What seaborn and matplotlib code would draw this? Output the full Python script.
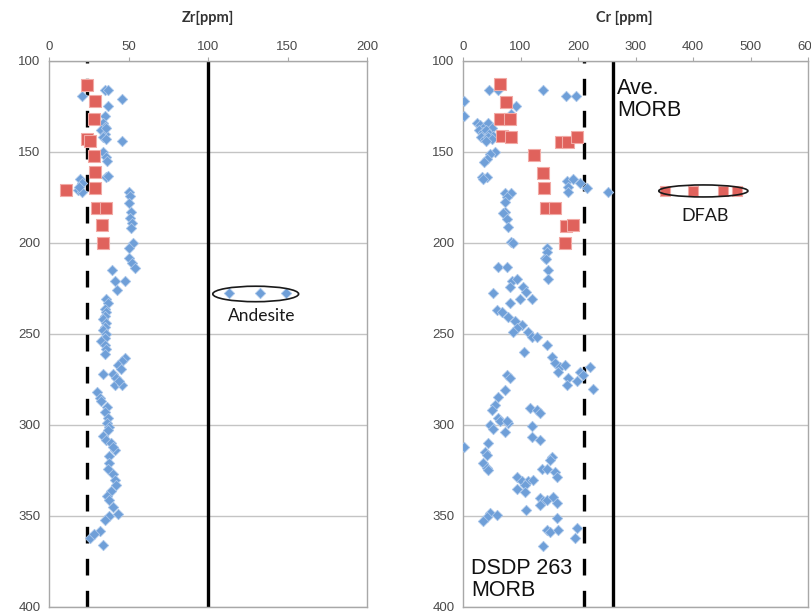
'''
Depth profiles of Zr and Cr with reference lines.
'''
import matplotlib
matplotlib.use('agg')
import matplotlib.pyplot as plt
from matplotlib.patches import Ellipse
import pandas as pd
import seaborn as sns

# Zr panel: (ppm, depth)
zr_blue = [(21, 119), (35, 116), (37, 116), (46, 121), (37, 125), (35, 130), (34, 134), (35, 136),
           (33, 138), (35, 140), (36, 137), (34, 142), (36, 143), (46, 144), (34, 150), (36, 153),
           (36.5, 155), (36, 164), (37, 163), (19.5, 165), (21, 167), (18.5, 171), (20.5, 172),
           (19, 169), (50, 172), (51, 174), (50, 178), (51.5, 183), (51, 186), (52, 189),
           (51.5, 192), (53, 200), (50, 203), (50, 208), (52, 211), (54, 214), (39.5, 215),
           (41.5, 221), (48, 221), (42.5, 226), (36, 231), (37, 233), (35, 236), (36, 238),
           (35, 240), (34, 242), (36, 244), (35, 246), (34, 248), (36, 250), (35, 252), (33, 254),
           (35, 256), (36, 258), (35, 261), (48, 263), (46, 265), (43.5, 267), (45, 269), (34, 272),
           (40, 272), (42, 274), (41.5, 278), (46, 278), (44, 276), (30, 282), (32, 285), (33, 287),
           (36.5, 290), (35, 293), (37, 296), (36.5, 299), (38, 301), (37, 303), (34, 306),
           (36, 308), (39, 310), (41.5, 314), (40, 312), (38, 317), (38, 321), (37, 324), (40, 327),
           (41.5, 330), (42, 333), (39, 336), (36.5, 339), (38, 341), (40, 345), (43.5, 349),
           (38, 350), (35, 352), (32, 358), (26, 362), (28, 360), (34, 366)]
zr_red = [(24, 113), (29, 122), (28, 132), (24, 143), (26, 144), (28, 152), (29, 161), (11, 171),
          (29, 170), (30, 181), (36, 181), (33.5, 190), (34, 200)]
zr_andesite = [(113, 227.5), (133, 227.5), (149, 227.5)]

# Cr panel: (ppm, depth)
cr_blue = [(2, 122), (45, 116), (61, 116), (139, 116), (179, 119), (196, 119), (2, 130), (92, 125),
           (84, 129), (24, 134), (30, 135), (36, 136), (44, 134), (50, 137), (28, 138), (34, 139),
           (40, 138), (46, 140), (52, 141), (32, 142), (38, 143), (44, 142), (50, 143), (40, 144),
           (56, 150), (47, 151), (42, 154), (37, 155.5), (33, 164), (42, 164), (35, 165), (181, 166),
           (191, 165), (183, 169), (203, 167), (216, 170), (183, 172), (252, 172), (73, 172.5),
           (84, 172.5), (76.5, 175), (73, 177.5), (73, 183), (70, 183.5), (76.5, 187), (78, 191),
           (83.5, 199.5), (87, 200), (146, 203), (143, 208), (146, 205), (144, 209), (148, 215),
           (148, 220), (61, 213), (76, 213), (85, 221), (94, 220), (82, 224), (104, 224), (110, 227),
           (52, 227.5), (99, 231), (120, 231), (82, 233), (59, 237), (68, 238), (78, 240.6),
           (90, 243), (102.6, 245), (94, 246.7), (87, 249), (113, 249), (120, 251.6), (129, 251.6),
           (146, 256), (106, 260), (155, 262.6), (160, 266), (169, 268), (177, 267), (165, 271),
           (203, 271), (221, 268), (209, 272.5), (183, 274), (181, 278), (198, 276), (226, 280),
           (76.5, 272.5), (82, 274), (73, 281), (61, 284.6), (56, 289), (50, 292), (116.5, 290.7),
           (129, 292), (134, 293.6), (47, 300), (61, 296), (78, 299), (120, 300.5), (52, 302),
           (64, 298), (76, 298), (73, 304), (120, 306.6), (134, 308), (2, 312), (43.5, 310),
           (38, 315), (42, 316.5), (35, 321), (42, 323.6), (43.5, 324.7), (155, 317.6), (151, 319),
           (137, 324), (146, 324), (160, 326), (163, 328.6), (94, 328.6), (102.6, 331), (113, 331),
           (122, 330), (108, 333), (94, 335), (108, 337), (134, 340), (139, 342), (146, 341),
           (157, 339.6), (134, 344), (163, 343), (110, 346.7), (47, 348.4), (59, 349.5), (42, 350.5),
           (35, 353), (163, 351), (146, 357.7), (151, 359), (165, 357.7), (198, 356.6), (195, 362),
           (139, 366.5)]
cr_red = [(64, 112.6), (75, 122.5), (64, 132), (82, 132), (68, 141), (83.5, 142), (170, 144.5),
          (183, 144.5), (198, 142), (123.5, 151.6), (139, 161.5), (141, 170), (144.5, 180.5),
          (160, 180.5), (179, 190.6), (191, 190), (177, 200)]
cr_dfab = [(351, 171.4), (400, 171.4), (452, 171.4), (477, 171.4)]

zr_lines = (24, 100)    # dashed, solid
cr_lines = (210, 260)

BLUE = '#6f9fd8'
BLUE_EDGE = '#a9c6ea'
RED = '#e0625c'
RED_EDGE = '#f2aaa5'
DASH = (0, (5, 4.6))


def to_df(pts):
    return pd.DataFrame(pts, columns=['ppm', 'depth'])


def style_axis(ax, xmax, xstep):
    ax.set_xlim(0, xmax)
    ax.set_ylim(400, 100)
    ax.set_xticks(range(0, xmax + 1, xstep))
    ax.set_yticks(range(100, 401, 50))
    ax.xaxis.tick_top()
    ax.grid(axis='y', color='#c4c4c4', lw=1.0)
    ax.grid(axis='x', visible=False)
    ax.set_axisbelow(True)
    for sp in ax.spines.values():
        sp.set_color('#a8a8a8')
        sp.set_linewidth(1.0)
    ax.tick_params(colors='#a8a8a8', labelcolor='#4a4a4a', labelsize=9.5, length=3, pad=3)
    ax.set_xlabel('')
    ax.set_ylabel('')


def draw(ax, blue, red, extra, extra_is_red):
    sns.scatterplot(data=to_df(blue), x='ppm', y='depth', ax=ax, marker='D', s=28,
                    color=BLUE, edgecolor=BLUE_EDGE, linewidth=0.6, zorder=3)
    sns.scatterplot(data=to_df(red), x='ppm', y='depth', ax=ax, marker='s', s=72,
                    color=RED, edgecolor=RED_EDGE, linewidth=0.8, zorder=4)
    if extra_is_red:
        sns.scatterplot(data=to_df(extra), x='ppm', y='depth', ax=ax, marker='s', s=55,
                        color=RED, edgecolor=RED_EDGE, linewidth=0.8, zorder=4)
    else:
        sns.scatterplot(data=to_df(extra), x='ppm', y='depth', ax=ax, marker='D', s=28,
                        color=BLUE, edgecolor=BLUE_EDGE, linewidth=0.6, zorder=3)


sns.set_style('white')
plt.rcParams['font.family'] = ['Liberation Sans', 'DejaVu Sans']

fig = plt.figure(figsize=(8.12, 6.16), dpi=100)
ax1 = fig.add_axes([49 / 812, 9 / 616, 318 / 812, 546 / 616])
ax2 = fig.add_axes([463 / 812, 9 / 616, 345 / 812, 546 / 616])

# Zr panel
draw(ax1, zr_blue, zr_red, zr_andesite, False)
ax1.axvline(zr_lines[0], color='black', lw=2.4, ls=DASH, zorder=2)
ax1.axvline(zr_lines[1], color='black', lw=2.4, zorder=2)
ax1.add_patch(Ellipse((130, 228), 54, 8.5, fill=False, ec='#1a1a1a', lw=1.2, zorder=5))
ax1.text(134, 240, 'Andesite', ha='center', va='center', fontsize=12.5,
         family=['Lato', 'DejaVu Sans'], color='#1a1a1a')
style_axis(ax1, 200, 50)

# Cr panel
draw(ax2, cr_blue, cr_red, cr_dfab, True)
ax2.axvline(cr_lines[0], color='black', lw=2.4, ls=DASH, zorder=2)
ax2.axvline(cr_lines[1], color='black', lw=2.4, zorder=2)
ax2.add_patch(Ellipse((418, 171.4), 155, 6.6, fill=False, ec='#1a1a1a', lw=1.2, zorder=5))
ax2.text(421, 185, 'DFAB', ha='center', va='center', fontsize=13,
         family=['Lato', 'DejaVu Sans'], color='#1a1a1a')
ax2.text(268, 121, 'Ave.\nMORB', ha='left', va='center', fontsize=15.5,
         color='#111111', linespacing=1.05)
ax2.text(14, 385, 'DSDP 263\nMORB', ha='left', va='center', fontsize=15.5,
         color='#111111', linespacing=1.05)
style_axis(ax2, 600, 100)

fig.text(208 / 812, 1 - 18 / 616, 'Zr[ppm]', ha='center', va='center', fontsize=10.5,
         fontweight='bold', family=['Lato', 'DejaVu Sans'], color='#333333')
fig.text(624 / 812, 1 - 18 / 616, 'Cr [ppm]', ha='center', va='center', fontsize=10.5,
         fontweight='bold', family=['Lato', 'DejaVu Sans'], color='#333333')

fig.savefig('out.png', dpi=100)
